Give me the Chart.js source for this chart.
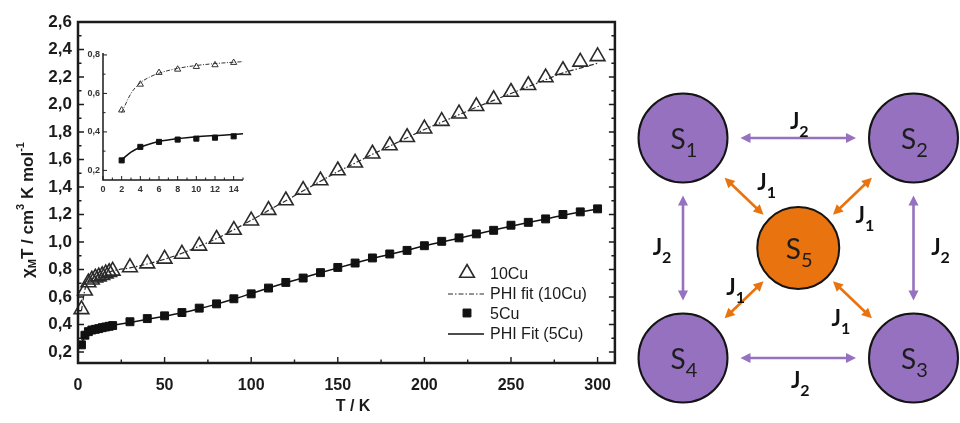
<!DOCTYPE html>
<html>
<head>
<meta charset="utf-8">
<script src="https://cdn.jsdelivr.net/npm/chart.js@4.4.1/dist/chart.umd.min.js"></script>
<style>
  html, body { margin: 0; padding: 0; background: #fff; }
  #wrap { position: relative; width: 960px; height: 423px; overflow: hidden; }
  canvas { position: absolute; }
  #mainChart { left: 0; top: 0; }
  #insetChart { left: 60px; top: 40px; }
  #spinChart { left: 620px; top: 0; }
</style>
</head>
<body>
<div id="wrap">
  <canvas id="mainChart" width="625" height="423"></canvas>
  <canvas id="insetChart" width="200" height="160"></canvas>
  <canvas id="spinChart" width="340" height="423"></canvas>
</div>
<script>
// temperatures (K) of the measured points and of the fit curves
const temps = [2, 4, 6, 8, 10, 12, 14, 16, 18, 20,
  30, 40, 50, 60, 70, 80, 90, 100, 110, 120, 130, 140, 150, 160, 170,
  180, 190, 200, 210, 220, 230, 240, 250, 260, 270, 280, 290, 300];

// chi_M T (cm3 K mol-1)
const chi10Cu = [0.51, 0.645, 0.705, 0.725, 0.74, 0.748, 0.758, 0.77, 0.78, 0.79,
  0.815, 0.843, 0.877, 0.913, 0.972, 1.022, 1.087, 1.155, 1.232, 1.302, 1.378, 1.447,
  1.52, 1.576, 1.642, 1.702, 1.762, 1.824, 1.879, 1.933, 1.987, 2.038, 2.091, 2.14,
  2.196, 2.249, 2.31, 2.35];
const fit10Cu = [0.50, 0.655, 0.705, 0.73, 0.745, 0.755, 0.76, 0.77, 0.78, 0.79,
  0.812, 0.84, 0.875, 0.918, 0.97, 1.025, 1.09, 1.158, 1.23, 1.3, 1.372, 1.442,
  1.512, 1.574, 1.638, 1.698, 1.758, 1.818, 1.872, 1.926, 1.98, 2.03, 2.08, 2.13,
  2.18, 2.23, 2.265, 2.30];
const chi5Cu = [0.252, 0.322, 0.348, 0.36, 0.365, 0.37, 0.377, 0.382, 0.387, 0.392,
  0.42, 0.443, 0.463, 0.487, 0.519, 0.55, 0.587, 0.623, 0.665, 0.706, 0.738, 0.777,
  0.815, 0.847, 0.884, 0.913, 0.939, 0.973, 1.005, 1.03, 1.059, 1.085, 1.122, 1.143,
  1.168, 1.2, 1.219, 1.241];
const fit5Cu = [0.255, 0.32, 0.35, 0.365, 0.372, 0.378, 0.383, 0.387, 0.39, 0.394,
  0.415, 0.438, 0.46, 0.485, 0.515, 0.548, 0.585, 0.625, 0.665, 0.703, 0.74, 0.777,
  0.812, 0.846, 0.88, 0.91, 0.94, 0.972, 1.0, 1.028, 1.057, 1.086, 1.115, 1.142,
  1.168, 1.195, 1.218, 1.24];

// inset: low temperature zoom
const insetTemps = [2, 4, 6, 8, 10, 12, 14];
const inset10Cu = [0.513, 0.647, 0.708, 0.725, 0.739, 0.748, 0.76];
const inset5Cu = [0.252, 0.322, 0.348, 0.36, 0.365, 0.37, 0.377];
const insetFitTemps = [2, 3, 4, 5, 6, 8, 10, 12, 14, 15];
const insetFit10Cu = [0.50, 0.60, 0.655, 0.685, 0.705, 0.73, 0.745, 0.755, 0.762, 0.765];
const insetFit5Cu = [0.255, 0.295, 0.32, 0.337, 0.35, 0.365, 0.375, 0.381, 0.386, 0.39];

// tick values
const xTickValues = [0, 50, 100, 150, 200, 250, 300];
const yTickValues = [0.2, 0.4, 0.6, 0.8, 1.0, 1.2, 1.4, 1.6, 1.8, 2.0, 2.2, 2.4, 2.6];
const insetXTicks = [0, 2, 4, 6, 8, 10, 12, 14];
const insetYTicks = [0.2, 0.4, 0.6, 0.8];

// spin model: five centres, square with one in the middle
const nodeNames = ['S1', 'S2', 'S3', 'S4', 'S5'];
const nodeX = [0, 1, 1, 0, 0.5];
const nodeY = [1, 1, 0, 0, 0.5];
const nodeKind = ['outer', 'outer', 'outer', 'outer', 'centre'];
const edgeFrom = [0, 3, 0, 1, 0, 1, 3, 2];
const edgeTo = [1, 2, 3, 2, 4, 4, 4, 4];
const edgeLabel = ['J2', 'J2', 'J2', 'J2', 'J1', 'J1', 'J1', 'J1'];

const FONT = '"Liberation Sans", Arial, sans-serif';
const INK = '#1b1b1b';
const pts = (xs, ys) => xs.map((v, i) => ({ x: v, y: ys[i] }));
const comma = v => v.toFixed(1).replace('.', ',');

// draws text pieces one after another (for sub/superscripts)
function drawRich(ctx, parts, x, y) {
  let w = 0;
  parts.forEach(p => { ctx.font = p.font; w += ctx.measureText(p.t).width; });
  let cx = x - w / 2;
  parts.forEach(p => {
    ctx.font = p.font;
    ctx.fillText(p.t, cx, y + (p.dy || 0));
    cx += ctx.measureText(p.t).width;
  });
}

function tickLines(ctx, scale, values, from, len, vertical) {
  values.forEach(v => {
    const p = scale.getPixelForValue(v);
    if (vertical) { ctx.moveTo(p, from); ctx.lineTo(p, from - len); }
    else { ctx.moveTo(from, p); ctx.lineTo(from + len, p); }
  });
}

const mainFrame = {
  id: 'mainFrame',
  afterDraw(chart) {
    const { ctx, chartArea: a, scales: { x, y } } = chart;
    ctx.save();
    ctx.strokeStyle = INK;
    ctx.lineWidth = 1.4;
    ctx.beginPath();
    const xMinor = xTickValues.map(v => v + 25).filter(v => v < x.max);
    tickLines(ctx, x, xTickValues, a.bottom, 6, true);
    tickLines(ctx, x, xMinor, a.bottom, 3.5, true);
    const yMinor = yTickValues.map(v => v - 0.1).filter(v => v > y.min);
    tickLines(ctx, y, yTickValues, a.left, 6, false);
    tickLines(ctx, y, yMinor, a.left, 3.5, false);
    tickLines(ctx, y, yTickValues, a.right, -6, false);
    tickLines(ctx, y, yMinor, a.right, -3.5, false);
    ctx.stroke();
    ctx.lineWidth = 2.5;
    ctx.strokeRect(a.left, a.top, a.right - a.left, a.bottom - a.top);

    // axis titles
    ctx.fillStyle = INK;
    ctx.textBaseline = 'middle';
    ctx.textAlign = 'left';
    drawRich(ctx, [{ t: 'T / K', font: 'bold 16px ' + FONT }], 353, 407);
    ctx.save();
    ctx.translate(28, 210);
    ctx.rotate(-Math.PI / 2);
    const big = 'bold 17px ' + FONT, small = 'bold 11px ' + FONT;
    drawRich(ctx, [
      { t: 'χ', font: big }, { t: 'M', font: small, dy: 5 },
      { t: 'T / cm', font: big }, { t: '3', font: small, dy: -7 },
      { t: ' K mol', font: big }, { t: '-1', font: small, dy: -7 }
    ], 0, 0);
    ctx.restore();

    // legend inside the plot
    const ds = chart.data.datasets;
    const rowY = [275, 295, 315, 335];
    ctx.font = '16px ' + FONT;
    ds.forEach((d, i) => {
      const ry = rowY[i];
      ctx.fillStyle = INK;
      ctx.fillText(d.label, 490, ry);
      ctx.strokeStyle = d.borderColor;
      ctx.lineWidth = d.borderWidth;
      if (d.showLine) {
        ctx.setLineDash(d.borderDash || []);
        ctx.beginPath();
        ctx.moveTo(448, ry - 1); ctx.lineTo(484, ry - 1);
        ctx.stroke();
        ctx.setLineDash([]);
      } else {
        ctx.fillStyle = d.backgroundColor;
        Chart.helpers.drawPoint(ctx, { pointStyle: d.pointStyle, radius: d.pointRadius,
          rotation: 0, borderWidth: d.borderWidth }, 467, ry - 2);
      }
    });
    ctx.restore();
  }
};

new Chart(document.getElementById('mainChart'), {
  type: 'scatter',
  data: {
    datasets: [
      { label: '10Cu', data: pts(temps, chi10Cu), pointStyle: 'triangle', pointRadius: 8.5,
        borderColor: '#2a2a2a', borderWidth: 1.6, backgroundColor: 'rgba(0,0,0,0)', clip: false },
      { label: 'PHI fit (10Cu)', data: pts(temps, fit10Cu), showLine: true, pointRadius: 0,
        borderColor: '#2a2a2a', borderWidth: 1.2, borderDash: [5, 2, 1.5, 2],
        cubicInterpolationMode: 'monotone' },
      { label: '5Cu', data: pts(temps, chi5Cu), pointStyle: 'rect', pointRadius: 5.6,
        borderColor: '#111', borderWidth: 1, backgroundColor: '#111', clip: false },
      { label: 'PHI Fit (5Cu)', data: pts(temps, fit5Cu), showLine: true, pointRadius: 0,
        borderColor: '#111', borderWidth: 1.5, cubicInterpolationMode: 'monotone' }
    ]
  },
  options: {
    responsive: false,
    animation: false,
    layout: { padding: { top: 22, right: 6, left: 0, bottom: 0 } },
    plugins: { legend: { display: false }, tooltip: { enabled: false } },
    scales: {
      x: {
        type: 'linear', min: 0, max: 310,
        afterBuildTicks: s => { s.ticks = xTickValues.map(v => ({ value: v })); },
        afterFit: s => { s.height = 60; },
        grid: { display: false, drawTicks: false },
        border: { display: false },
        ticks: { font: { family: FONT, size: 16, weight: 'bold' }, color: INK,
          padding: 13, maxRotation: 0, autoSkip: false }
      },
      y: {
        type: 'linear', min: 0.12, max: 2.6,
        afterBuildTicks: s => { s.ticks = yTickValues.map(v => ({ value: v })); },
        afterFit: s => { s.width = 78; },
        grid: { display: false, drawTicks: false },
        border: { display: false },
        ticks: { font: { family: FONT, size: 17, weight: 'bold' }, color: INK,
          padding: 6, autoSkip: false, callback: v => comma(v) }
      }
    }
  },
  plugins: [mainFrame]
});

const insetFrame = {
  id: 'insetFrame',
  afterDraw(chart) {
    const { ctx, chartArea: a, scales: { x, y } } = chart;
    ctx.save();
    ctx.strokeStyle = INK;
    ctx.lineWidth = 1;
    ctx.beginPath();
    tickLines(ctx, x, insetXTicks, a.bottom, 4, true);
    tickLines(ctx, x, insetXTicks.map(v => v + 1), a.bottom, 2.5, true);
    tickLines(ctx, y, insetYTicks, a.left, 4, false);
    tickLines(ctx, y, insetYTicks.slice(1).map(v => v - 0.1), a.left, 2.5, false);
    ctx.stroke();
    ctx.lineWidth = 1.5;
    ctx.beginPath();
    ctx.moveTo(a.left, a.top); ctx.lineTo(a.left, a.bottom); ctx.lineTo(a.right, a.bottom);
    ctx.stroke();
    ctx.restore();
  }
};

new Chart(document.getElementById('insetChart'), {
  type: 'scatter',
  data: {
    datasets: [
      { data: pts(insetTemps, inset10Cu), pointStyle: 'triangle', pointRadius: 3.6,
        borderColor: '#333', borderWidth: 1, backgroundColor: 'rgba(0,0,0,0)' },
      { data: pts(insetFitTemps, insetFit10Cu), showLine: true, pointRadius: 0,
        borderColor: '#333', borderWidth: 1, borderDash: [4, 1.5, 1, 1.5],
        cubicInterpolationMode: 'monotone' },
      { data: pts(insetTemps, inset5Cu), pointStyle: 'rect', pointRadius: 3.6,
        borderColor: '#111', borderWidth: 1, backgroundColor: '#111' },
      { data: pts(insetFitTemps, insetFit5Cu), showLine: true, pointRadius: 0,
        borderColor: '#111', borderWidth: 1.5, cubicInterpolationMode: 'monotone' }
    ]
  },
  options: {
    responsive: false,
    animation: false,
    layout: { padding: { top: 13, right: 17, left: 0, bottom: 0 } },
    plugins: { legend: { display: false }, tooltip: { enabled: false } },
    scales: {
      x: {
        type: 'linear', min: 0, max: 15,
        afterBuildTicks: s => { s.ticks = insetXTicks.map(v => ({ value: v })); },
        afterFit: s => { s.height = 20; },
        grid: { display: false, drawTicks: false },
        border: { display: false },
        ticks: { font: { family: FONT, size: 9, weight: 'bold' }, color: '#333',
          padding: 4, maxRotation: 0, autoSkip: false }
      },
      y: {
        type: 'linear', min: 0.15, max: 0.81,
        afterBuildTicks: s => { s.ticks = insetYTicks.map(v => ({ value: v })); },
        afterFit: s => { s.width = 43; },
        grid: { display: false, drawTicks: false },
        border: { display: false },
        ticks: { font: { family: FONT, size: 9, weight: 'bold' }, color: '#333',
          padding: 3, autoSkip: false, callback: v => comma(v) }
      }
    }
  },
  plugins: [insetFrame]
});

// ---- spin coupling scheme ----
const PURPLE = '#9571bf';
const ORANGE = '#e8730f';
const nodeRadius = k => (k === 'centre' ? 41 : 44.5);
const nodeGap = k => (k === 'centre' ? 7 : 13);
// label placement relative to the middle of each coupling
const labelShift = [[1, -17], [2, 22], [-21, -1], [27, -1], [26, -11], [9, 22], [-5, -16], [-15, 15]];

function arrowHead(ctx, x, y, ang, hl, hw) {
  ctx.beginPath();
  ctx.moveTo(x, y);
  ctx.lineTo(x - hl * Math.cos(ang) + hw * Math.sin(ang), y - hl * Math.sin(ang) - hw * Math.cos(ang));
  ctx.lineTo(x - hl * Math.cos(ang) - hw * Math.sin(ang), y - hl * Math.sin(ang) + hw * Math.cos(ang));
  ctx.closePath();
  ctx.fill();
}

function doubleArrow(ctx, x1, y1, x2, y2, color) {
  const ang = Math.atan2(y2 - y1, x2 - x1);
  const hl = 10, hw = 5;
  ctx.strokeStyle = color;
  ctx.fillStyle = color;
  ctx.lineWidth = 2.6;
  ctx.beginPath();
  ctx.moveTo(x1 + Math.cos(ang) * hl * 0.7, y1 + Math.sin(ang) * hl * 0.7);
  ctx.lineTo(x2 - Math.cos(ang) * hl * 0.7, y2 - Math.sin(ang) * hl * 0.7);
  ctx.stroke();
  arrowHead(ctx, x2, y2, ang, hl, hw);
  arrowHead(ctx, x1, y1, ang + Math.PI, hl, hw);
}

const spinDrawing = {
  id: 'spinDrawing',
  afterDraw(chart) {
    const { ctx, scales: { x, y } } = chart;
    const px = i => x.getPixelForValue(nodeX[i]);
    const py = i => y.getPixelForValue(nodeY[i]);
    ctx.save();
    edgeFrom.forEach((f, k) => {
      const t = edgeTo[k];
      const x1 = px(f), y1 = py(f), x2 = px(t), y2 = py(t);
      const d = Math.hypot(x2 - x1, y2 - y1);
      const ux = (x2 - x1) / d, uy = (y2 - y1) / d;
      const g1 = nodeRadius(nodeKind[f]) + nodeGap(nodeKind[f]);
      const g2 = nodeRadius(nodeKind[t]) + nodeGap(nodeKind[t]);
      const color = edgeLabel[k] === 'J2' ? PURPLE : ORANGE;
      doubleArrow(ctx, x1 + ux * g1, y1 + uy * g1, x2 - ux * g2, y2 - uy * g2, color);

      const lx = (x1 + x2) / 2 + labelShift[k][0];
      const ly = (y1 + y2) / 2 + labelShift[k][1];
      ctx.fillStyle = '#111';
      ctx.textBaseline = 'alphabetic';
      ctx.textAlign = 'left';
      drawRich(ctx, [
        { t: edgeLabel[k][0], font: 'bold 22px Lato' },
        { t: edgeLabel[k].slice(1), font: 'bold 16px Lato', dy: 8 }
      ], lx, ly + 8);
    });
    nodeNames.forEach((n, i) => {
      ctx.fillStyle = '#1d1d1d';
      ctx.textBaseline = 'alphabetic';
      drawRich(ctx, [
        { t: n[0], font: '28px Lato' },
        { t: n.slice(1), font: '20px Lato', dy: 8 }
      ], px(i) + 1, py(i) + 11);
    });
    ctx.restore();
  }
};

new Chart(document.getElementById('spinChart'), {
  type: 'scatter',
  data: {
    datasets: [{
      data: pts(nodeX, nodeY),
      pointRadius: nodeKind.map(nodeRadius),
      backgroundColor: nodeKind.map(k => (k === 'centre' ? ORANGE : PURPLE)),
      borderColor: '#141414',
      borderWidth: 2,
      clip: false
    }]
  },
  options: {
    responsive: false,
    animation: false,
    layout: { padding: { left: 63, right: 37, top: 138, bottom: 65 } },
    plugins: { legend: { display: false }, tooltip: { enabled: false } },
    scales: {
      x: { type: 'linear', min: 0, max: 1, display: false },
      y: { type: 'linear', min: 0, max: 1, display: false }
    }
  },
  plugins: [spinDrawing]
});
</script>
</body>
</html>
